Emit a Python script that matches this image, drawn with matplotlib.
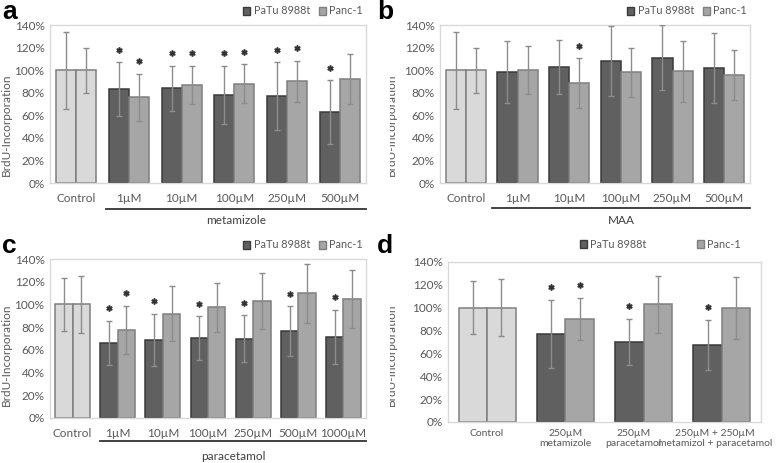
import matplotlib
matplotlib.use("Agg")
import matplotlib.pyplot as plt
from matplotlib.patches import Patch
from matplotlib.transforms import Bbox, TransformedBbox, ScaledTranslation, blended_transform_factory

plt.rcParams['font.family'] = ['Lato', 'DejaVu Sans']

# panel a - metamizole
a_groups = ['Control', '1µM', '10µM', '100µM', '250µM', '500µM']
a_patu = [100, 83, 84, 78, 77, 63]
a_patu_err = [34, 24, 20, 26, 30, 28]
a_panc = [100, 76, 87, 88, 90, 92]
a_panc_err = [20, 21, 17, 17.5, 18.5, 22]
a_patu_sig = [0, 1, 1, 1, 1, 1]
a_panc_sig = [0, 1, 1, 1, 1, 0]

# panel b - MAA
b_groups = ['Control', '1µM', '10µM', '100µM', '250µM', '500µM']
b_patu = [100, 98, 103, 108, 111, 102]
b_patu_err = [34, 27.5, 24, 31, 29, 31]
b_panc = [100, 100, 88.5, 98, 99, 95.5]
b_panc_err = [20, 21, 22, 22, 27, 22]
b_patu_sig = [0, 0, 0, 0, 0, 0]
b_panc_sig = [0, 0, 1, 0, 0, 0]

# panel c - paracetamol
c_groups = ['Control', '1µM', '10µM', '100µM', '250µM', '500µM', '1000µM']
c_patu = [100, 66, 69, 70.5, 70, 76.5, 71.5]
c_patu_err = [23, 19.5, 23, 19, 20.5, 22, 24]
c_panc = [100, 77.5, 92, 97.5, 103, 110, 104.5]
c_panc_err = [25, 21.5, 24, 21.5, 25, 26, 25.5]
c_patu_sig = [0, 1, 1, 1, 1, 1, 1]
c_panc_sig = [0, 1, 0, 0, 0, 0, 0]

# panel d - combination
d_groups = ['Control', '250µM\nmetamizole', '250µM\nparacetamol',
            '250µM + 250µM\nmetamizol + paracetamol']
d_patu = [100, 77, 70, 67.5]
d_patu_err = [23, 30, 20.5, 22]
d_panc = [100, 90, 103, 99.5]
d_panc_err = [25, 18.5, 25, 27]
d_patu_sig = [0, 1, 1, 1]
d_panc_sig = [0, 1, 0, 0]

yticks = [0, 20, 40, 60, 80, 100, 120, 140]

TXT = '#595959'
CTRL = '#d9d9d9'
DARK = '#606060'
LIGHT = '#a6a6a6'

W, H = 778, 463
fig = plt.figure(figsize=(W / 100, H / 100), dpi=100)


def px_axes(x0, y0, x1, y1):
    return fig.add_axes([x0 / W, 1 - y1 / H, (x1 - x0) / W, (y1 - y0) / H])


def panel(ax, groups, patu, patu_err, panc, panc_err, patu_sig, panc_sig, bw=0.38, pad=7, xsize=8.5):
    n = len(groups)
    for i in range(n):
        c1 = CTRL if i == 0 else DARK
        c2 = CTRL if i == 0 else LIGHT
        e1 = '#7f7f7f' if i == 0 else '#3a3a3a'
        e2 = '#7f7f7f'
        ax.bar(i - bw / 2, patu[i], bw, color=c1, edgecolor=e1, linewidth=1.1, zorder=2)
        ax.bar(i + bw / 2, panc[i], bw, color=c2, edgecolor=e2, linewidth=1.1, zorder=2)
        ax.errorbar(i - bw / 2, patu[i], yerr=patu_err[i], fmt='none', ecolor='#8c8c8c',
                    elinewidth=1, capsize=2.5, capthick=1, zorder=3)
        ax.errorbar(i + bw / 2, panc[i], yerr=panc_err[i], fmt='none', ecolor='#8c8c8c',
                    elinewidth=1, capsize=2.5, capthick=1, zorder=3)
        if patu_sig[i]:
            ax.plot(i - bw / 2, patu[i] + patu_err[i] + 11, marker='$\\ast$', ms=3.8,
                    color='#333333', zorder=4)
        if panc_sig[i]:
            ax.plot(i + bw / 2, panc[i] + panc_err[i] + 11, marker='$\\ast$', ms=3.8,
                    color='#333333', zorder=4)
    ax.set_xlim(-0.5, n - 0.5)
    ax.set_ylim(0, 140)
    ax.set_yticks(yticks)
    ax.set_yticklabels([f'{t}%' for t in yticks])
    ax.set_xticks(range(n))
    ax.set_xticklabels(groups)
    ax.tick_params(length=0, labelsize=8.5, labelcolor=TXT, pad=pad)
    ax.tick_params(axis='x', labelsize=xsize)
    ax.tick_params(axis='y', pad=4)
    for s in ax.spines.values():
        s.set_color('#d9d9d9')
        s.set_linewidth(1)


def legend(x_right, y, spacing=0.8):
    h = [Patch(facecolor=DARK, edgecolor='#3a3a3a', label='PaTu 8988t'),
         Patch(facecolor=LIGHT, edgecolor='#7f7f7f', label='Panc-1')]
    fig.legend(handles=h, loc='center right', bbox_to_anchor=(x_right / W, 1 - y / H),
               ncol=2, frameon=False, fontsize=7.8, labelcolor=TXT, handlelength=0.7,
               handleheight=0.7, handletextpad=0.3, columnspacing=spacing,
               borderpad=0, borderaxespad=0)


def group_line(ax, x0, x1, yline, ytext, label):
    tr = blended_transform_factory(ax.transData, ax.transAxes)
    ax.plot([x0, x1], [yline, yline], color='#333333', lw=1.3, transform=tr, clip_on=False)
    ax.text((x0 + x1) / 2, ytext, label, transform=tr, ha='center', va='center',
            fontsize=8.5, color='#404040')


clip_right = TransformedBbox(Bbox.from_extents(390 / W, 0, 1, 1), fig.transFigure)


def ylabel(x, y, clip=False):
    t = fig.text(x / W, 1 - y / H, 'BrdU-Incorporation', rotation=90, ha='center',
                 va='center', fontsize=8.5, color=TXT)
    if clip:
        t.set_clip_box(clip_right)
        t.set_clip_on(True)


# a
ax_a = px_axes(50, 25, 366, 183)
panel(ax_a, a_groups, a_patu, a_patu_err, a_panc, a_panc_err, a_patu_sig, a_panc_sig)
group_line(ax_a, 0.57, 5.5, -0.165, -0.235, 'metamizole')
legend(363, 11)
ylabel(6, 125)
fig.text(2 / W, 1 - 12 / H, 'a', fontsize=19, fontweight='bold', family='Liberation Sans',
         va='center', ha='left')

# b
ax_b = px_axes(440, 25, 750, 183)
panel(ax_b, b_groups, b_patu, b_patu_err, b_panc, b_panc_err, b_patu_sig, b_panc_sig, bw=0.39)
group_line(ax_b, 0.51, 5.5, -0.158, -0.235, 'MAA')
legend(747, 11)
ylabel(391, 125, clip=True)
fig.text(377 / W, 1 - 12 / H, 'b', fontsize=19, fontweight='bold', family='Liberation Sans',
         va='center', ha='left')

# c
ax_c = px_axes(50, 259, 366, 418)
panel(ax_c, c_groups, c_patu, c_patu_err, c_panc, c_panc_err, c_patu_sig, c_panc_sig, bw=0.385)
group_line(ax_c, 0.61, 6.5, -0.145, -0.24, 'paracetamol')
legend(363, 245)
ylabel(6, 355)
fig.text(2 / W, 1 - 246 / H, 'c', fontsize=19, fontweight='bold', family='Liberation Sans',
         va='center', ha='left')

# d
ax_d = px_axes(448, 262, 761, 422)
panel(ax_d, d_groups, d_patu, d_patu_err, d_panc, d_panc_err, d_patu_sig, d_panc_sig,
      bw=0.365, pad=5, xsize=7.5)
# nudge the two right-hand labels left a little, like the reference
shifts = [0, 0, -10, -7]
for lab, dx in zip(ax_d.get_xticklabels(), shifts):
    lab.set_transform(lab.get_transform() + ScaledTranslation(dx / 100, 0, fig.dpi_scale_trans))
legend(741, 244, spacing=4.6)
ylabel(391, 355, clip=True)
fig.text(377 / W, 1 - 246 / H, 'd', fontsize=19, fontweight='bold', family='Liberation Sans',
         va='center', ha='left')

plt.savefig('out.png', dpi=100)
